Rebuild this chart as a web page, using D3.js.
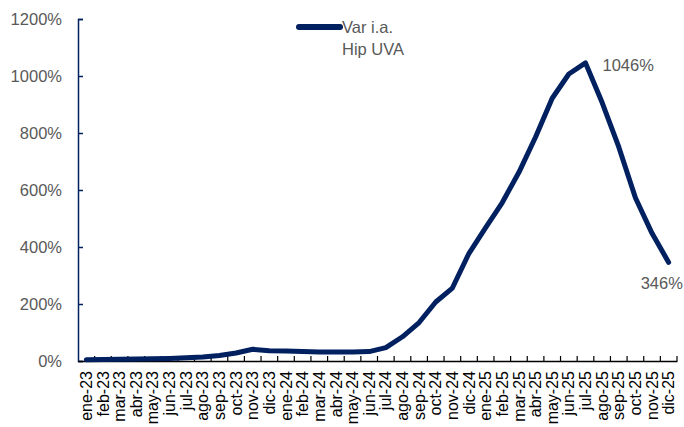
<!DOCTYPE html>
<html>
<head>
<meta charset="utf-8">
<script src="https://cdn.jsdelivr.net/npm/d3@7"></script>
<style>
body{margin:0;background:#fff;}
svg{display:block;}
text{font-family:"Liberation Sans","Open Sans",sans-serif;}
</style>
</head>
<body>
<svg id="c" width="684" height="427"></svg>
<script>
const categories = ["ene-23","feb-23","mar-23","abr-23","may-23","jun-23","jul-23","ago-23","sep-23","oct-23","nov-23","dic-23",
"ene-24","feb-24","mar-24","abr-24","may-24","jun-24","jul-24","ago-24","sep-24","oct-24","nov-24","dic-24",
"ene-25","feb-25","mar-25","abr-25","may-25","jun-25","jul-25","ago-25","sep-25","oct-25","nov-25","dic-25"];
const values = [4,5,6,7,8,9,11,14,19,28,41,36,
35,33,32,32,32,33,47,85,135,207,256,378,
468,556,662,786,922,1007,1046,907,751,573,448,346];
const yTicks = [0,200,400,600,800,1000,1200];
const seriesName = ["Var i.a.","Hip UVA"];
const labelled = [{i:30,text:"1046%"},{i:35,text:"346%"}];

const svg = d3.select("#c");
const m = {l:78, r:677, t:19, b:361};
const x = d3.scaleBand().domain(categories).range([m.l, m.r]).padding(0);
const y = d3.scaleLinear().domain([0,1200]).range([m.b, m.t]);
const navy = "#002060";
const gray = "#595959";
const fs = "16.5px";

// y axis
const ya = svg.append("g").attr("transform",`translate(${m.l},0)`)
  .call(d3.axisLeft(y).tickValues(yTicks).tickSize(-5).tickPadding(16).tickFormat(d=>d+"%"));
ya.select(".domain").attr("stroke",navy).attr("stroke-width",1.5);
ya.selectAll(".tick line").attr("stroke",navy).attr("stroke-width",1.5);
ya.selectAll(".tick text").attr("fill",gray).style("font-size",fs);

// x axis
const xa = svg.append("g").attr("transform",`translate(0,${m.b})`)
  .call(d3.axisBottom(x).tickSize(0).tickPadding(0));
xa.select(".domain").attr("stroke","#000").attr("stroke-width",1.5);
xa.selectAll(".tick text")
  .attr("transform","rotate(-90)")
  .attr("x",-10).attr("y",0).attr("dy","0.35em")
  .attr("text-anchor","end")
  .attr("fill","#000").style("font-size","16px");
// boundary tick marks (inside, upward)
const bounds = categories.map(c=>x(c)+x.bandwidth());
svg.append("g").selectAll("line").data(bounds).join("line")
  .attr("x1",d=>d).attr("x2",d=>d).attr("y1",m.b).attr("y2",m.b-5)
  .attr("stroke","#000").attr("stroke-width",1.2);

// line
const line = d3.line().x((d,i)=>x(categories[i])+x.bandwidth()/2).y(d=>y(d));
svg.append("path").datum(values).attr("d",line)
  .attr("fill","none").attr("stroke",navy).attr("stroke-width",5)
  .attr("stroke-linejoin","round").attr("stroke-linecap","round");

// data labels
svg.append("text").attr("x",x(categories[labelled[0].i])+x.bandwidth()/2+17).attr("y",y(values[labelled[0].i])+8)
  .text(labelled[0].text).attr("fill",gray).style("font-size",fs);
svg.append("text").attr("x",x(categories[labelled[1].i])+x.bandwidth()/2-28).attr("y",y(values[labelled[1].i])+27)
  .text(labelled[1].text).attr("fill",gray).style("font-size",fs);

// legend
svg.append("line").attr("x1",299).attr("x2",340).attr("y1",27).attr("y2",27)
  .attr("stroke",navy).attr("stroke-width",6).attr("stroke-linecap","round");
svg.append("text").attr("x",342).attr("y",33).text(seriesName[0]).attr("fill",gray).style("font-size",fs);
svg.append("text").attr("x",342).attr("y",55).text(seriesName[1]).attr("fill",gray).style("font-size",fs);
</script>
</body>
</html>
